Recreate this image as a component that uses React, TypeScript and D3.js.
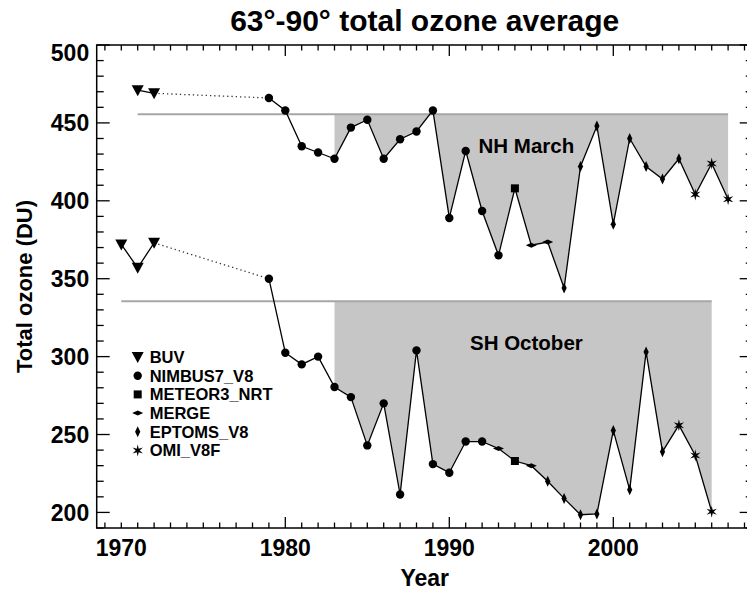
import React from "react";
import * as d3 from "d3";

// ---- data ----
const nhYears = [1971, 1972, 1979, 1980, 1981, 1982, 1983, 1984, 1985, 1986, 1987, 1988, 1989, 1990, 1991, 1992, 1993, 1994, 1995, 1996, 1997, 1998, 1999, 2000, 2001, 2002, 2003, 2004, 2005, 2006, 2007];
const nhValues = [471, 469, 466, 458, 435, 431, 427, 447, 452, 427, 439.5, 444.5, 458, 389, 432, 393.5, 365, 408, 371.5, 373.5, 344, 422, 448, 385, 440, 422, 414, 427, 404, 424, 401];
const nhSources = ["BUV", "BUV", "N7", "N7", "N7", "N7", "N7", "N7", "N7", "N7", "N7", "N7", "N7", "N7", "N7", "N7", "N7", "M3", "MG", "MG", "EP", "EP", "EP", "EP", "EP", "EP", "EP", "EP", "OMI", "OMI", "OMI"];
const nhMean = 455.5;
const nhMeanSpan = [1971, 2007];

const shYears = [1970, 1971, 1972, 1979, 1980, 1981, 1982, 1983, 1984, 1985, 1986, 1987, 1988, 1989, 1990, 1991, 1992, 1993, 1994, 1995, 1996, 1997, 1998, 1999, 2000, 2001, 2002, 2003, 2004, 2005, 2006];
const shValues = [372, 357, 373, 350, 302.5, 295, 300, 280.5, 274, 243, 270, 211.5, 304, 231, 225.5, 245.5, 245.5, 241, 233, 230, 220, 209, 198.5, 199, 252.5, 214.5, 303, 239, 256, 236.5, 200.5];
const shSources = ["BUV", "BUV", "BUV", "N7", "N7", "N7", "N7", "N7", "N7", "N7", "N7", "N7", "N7", "N7", "N7", "N7", "N7", "MG", "M3", "MG", "EP", "EP", "EP", "EP", "EP", "EP", "EP", "EP", "OMI", "OMI", "OMI"];
const shMean = 335.5;
const shMeanSpan = [1970, 2006];

const fillStartYear = 1983;

const legendKeys = ["BUV", "N7", "M3", "MG", "EP", "OMI"];
const legendLabels = ["BUV", "NIMBUS7_V8", "METEOR3_NRT", "MERGE", "EPTOMS_V8", "OMI_V8F"];

const yTicks = [200, 250, 300, 350, 400, 450, 500];
const xLabelTicks = [1970, 1980, 1990, 2000];
const xMajorTicks = [1980, 1990, 2000];

const titleText = "63°-90° total ozone average";
const xTitle = "Year";
const yTitle = "Total ozone (DU)";
const nhLabel = "NH March";
const shLabel = "SH October";
const nhLabelYear = 1994.7;
const nhLabelValue = 430.5;
const shLabelYear = 1994.7;
const shLabelValue = 304;

// ---- layout ----
const W = 747;
const H = 592;
const left = 96.7;
const right = 752.7;
const top = 45;
const bottom = 528;

const x = d3.scaleLinear().domain([1968.5, 2008.5]).range([left, right]);
const y = d3.scaleLinear().domain([190, 500]).range([bottom, top]);

const FONT = "'Liberation Sans', Arial, Helvetica, sans-serif";
const FILL = "#c6c6c6";
const MEANC = "#a6a6a6";

function starPath(cx: number, cy: number, ro: number, ri: number, n: number) {
  const pts: [number, number][] = [];
  for (let i = 0; i < n * 2; i++) {
    const r = i % 2 === 0 ? ro : ri;
    const a = (Math.PI * i) / n - Math.PI / 2;
    pts.push([cx + r * Math.cos(a), cy + r * Math.sin(a)]);
  }
  return "M" + pts.map((p) => p.join(",")).join("L") + "Z";
}

function Marker({ kind, cx, cy }: { kind: string; cx: number; cy: number }) {
  if (kind === "BUV") {
    return <path d={`M${cx - 6},${cy - 5}L${cx + 6},${cy - 5}L${cx},${cy + 6}Z`} fill="black" />;
  }
  if (kind === "N7") return <circle cx={cx} cy={cy} r={4.2} fill="black" />;
  if (kind === "M3") return <rect x={cx - 4} y={cy - 4} width={8} height={8} fill="black" />;
  if (kind === "MG")
    return <path d={`M${cx - 5.5},${cy}L${cx},${cy - 2.5}L${cx + 5.5},${cy}L${cx},${cy + 2.5}Z`} fill="black" />;
  if (kind === "EP")
    return <path d={`M${cx},${cy - 5.5}L${cx + 2.6},${cy}L${cx},${cy + 5.5}L${cx - 2.6},${cy}Z`} fill="black" />;
  return <path d={starPath(cx, cy, 6, 2, 6)} fill="black" />;
}

function Series({ years, values, sources, mean, span, id }: any) {
  const pts = years.map((yr: number, i: number) => ({ yr, v: values[i], s: sources[i] }));
  const buv = pts.filter((p: any) => p.s === "BUV");
  const rest = pts.filter((p: any) => p.s !== "BUV");
  const line = d3.line<any>().x((p) => x(p.yr)).y((p) => y(p.v));
  const fillPts = pts.filter((p: any) => p.yr >= fillStartYear);
  const area = d3
    .area<any>()
    .x((p) => x(p.yr))
    .y0(y(mean))
    .y1((p) => y(p.v));
  const gap = [buv[buv.length - 1], rest[0]];
  return (
    <g>
      <defs>
        <clipPath id={`clip-${id}`}>
          <rect x={left} y={y(mean)} width={right - left} height={bottom - y(mean)} />
        </clipPath>
      </defs>
      <path d={area(fillPts) || ""} fill={FILL} clipPath={`url(#clip-${id})`} />
      <line x1={x(span[0])} x2={x(span[1])} y1={y(mean)} y2={y(mean)} stroke={MEANC} strokeWidth={2} />
      <path d={line(buv) || ""} fill="none" stroke="black" strokeWidth={1.3} />
      <path d={line(gap) || ""} fill="none" stroke="#333" strokeWidth={1.3} strokeDasharray="1.3,3" />
      <path d={line(rest) || ""} fill="none" stroke="black" strokeWidth={1.3} />
      {pts.map((p: any, i: number) => (
        <Marker key={i} kind={p.s} cx={x(p.yr)} cy={y(p.v)} />
      ))}
    </g>
  );
}

export default function App() {
  const yMinor = d3.range(190, 501, 10);
  const xMinor = d3.range(1969, 2009, 1);
  const legendX = x(1971);
  const legendY0 = 357;
  const legendStep = 18.7;
  return (
    <svg
      width={W}
      height={H}
      style={{ position: "absolute", left: 0, top: 0, background: "white" }}
      fontFamily={FONT}
    >
      <rect width={W} height={H} fill="white" />
      <Series id="nh" years={nhYears} values={nhValues} sources={nhSources} mean={nhMean} span={nhMeanSpan} />
      <Series id="sh" years={shYears} values={shValues} sources={shSources} mean={shMean} span={shMeanSpan} />

      <text x={x(nhLabelYear)} y={y(nhLabelValue)} textAnchor="middle" fontSize={20.5} fontWeight="bold">
        {nhLabel}
      </text>
      <text x={x(shLabelYear)} y={y(shLabelValue)} textAnchor="middle" fontSize={20.5} fontWeight="bold">
        {shLabel}
      </text>

      {/* legend */}
      {legendKeys.map((k, i) => (
        <g key={k}>
          <Marker kind={k} cx={legendX} cy={legendY0 + i * legendStep} />
          <text x={legendX + 12} y={legendY0 + i * legendStep} dy="0.36em" fontSize={16.5} fontWeight="bold">
            {legendLabels[i]}
          </text>
        </g>
      ))}

      {/* axes frame */}
      <rect x={left} y={top} width={right - left} height={bottom - top} fill="none" stroke="black" strokeWidth={1.5} />
      {yMinor.map((v) => {
        const major = v % 50 === 0;
        const len = major ? 13 : 7;
        return (
          <g key={`y${v}`} stroke="black" strokeWidth={1.3}>
            <line x1={left} x2={left + len} y1={y(v)} y2={y(v)} />
            <line x1={right} x2={right - len} y1={y(v)} y2={y(v)} />
          </g>
        );
      })}
      {xMinor.map((yr) => {
        const major = xMajorTicks.includes(yr);
        const len = major ? 11 : 5.5;
        return (
          <g key={`x${yr}`} stroke="black" strokeWidth={1.3}>
            <line x1={x(yr)} x2={x(yr)} y1={bottom} y2={bottom - len} />
            <line x1={x(yr)} x2={x(yr)} y1={top} y2={top + len} />
          </g>
        );
      })}
      {yTicks.map((v) => (
        <text
          key={`yl${v}`}
          x={left - 7.5}
          y={Math.max(y(v), top + 7.5)}
          dy="0.36em"
          textAnchor="end"
          fontSize={23}
          fontWeight="bold"
        >
          {v}
        </text>
      ))}
      {xLabelTicks.map((yr) => (
        <text key={`xl${yr}`} x={x(yr)} y={556} textAnchor="middle" fontSize={23} fontWeight="bold">
          {yr}
        </text>
      ))}
      <text x={(left + right) / 2} y={586} textAnchor="middle" fontSize={23} fontWeight="bold">
        {xTitle}
      </text>
      <text
        transform={`translate(32,${(top + bottom) / 2}) rotate(-90)`}
        textAnchor="middle"
        fontSize={22}
        fontWeight="bold"
      >
        {yTitle}
      </text>
      <text x={(left + right) / 2} y={31} textAnchor="middle" fontSize={30} fontWeight="bold">
        {titleText}
      </text>
    </svg>
  );
}
